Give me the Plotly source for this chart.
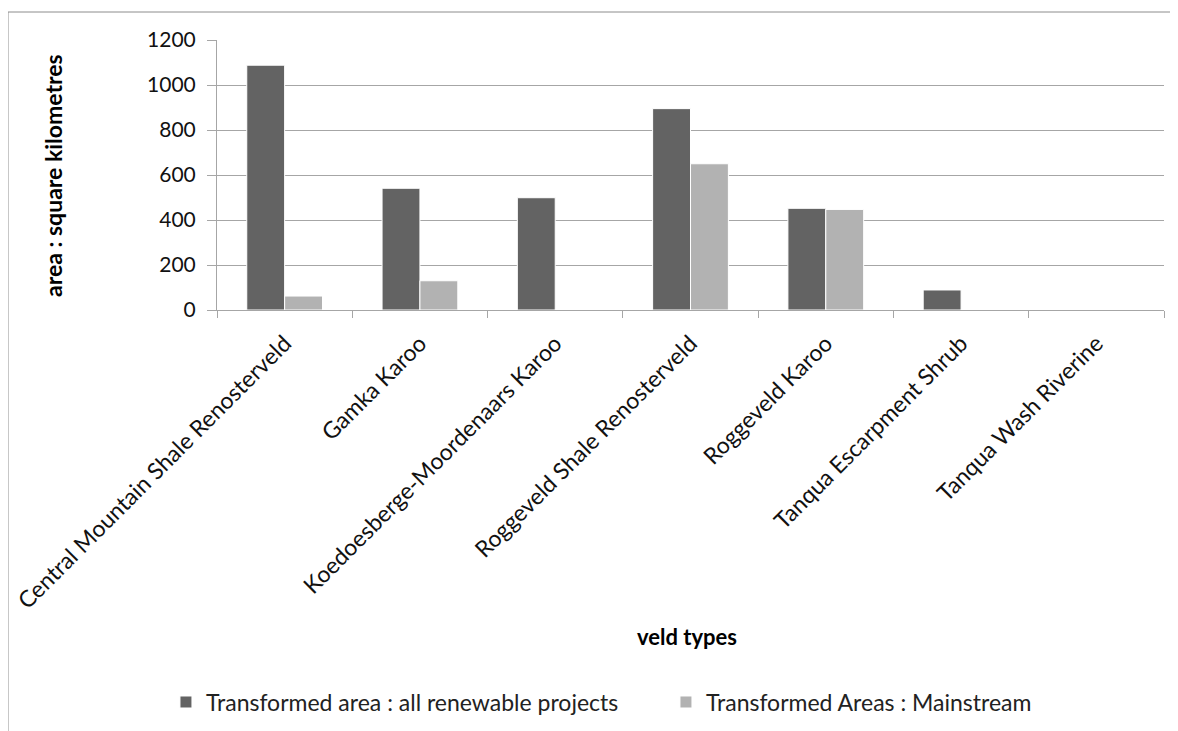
import plotly.graph_objects as go

veld_types = [
    "Central Mountain Shale Renosterveld",
    "Gamka Karoo",
    "Koedoesberge-Moordenaars Karoo",
    "Roggeveld Shale Renosterveld",
    "Roggeveld Karoo",
    "Tanqua Escarpment Shrub",
    "Tanqua Wash Riverine",
]
all_renewable = [1088, 541, 499, 895, 452, 89, 0]
mainstream = [62, 130, 0, 650, 447, 0, 0]

y_ticks = [0, 200, 400, 600, 800, 1000, 1200]

FONT = "Lato, Open Sans, sans-serif"

fig = go.Figure()

fig.add_trace(go.Bar(
    x=veld_types, y=all_renewable,
    name="Transformed area : all renewable projects",
    marker=dict(color="#636363", line=dict(color="#ffffff", width=1)),
))
fig.add_trace(go.Bar(
    x=veld_types, y=mainstream,
    name="Transformed Areas : Mainstream",
    marker=dict(color="#b2b2b2", line=dict(color="#ffffff", width=1)),
))

# page body adds an 8px offset, so the figure is a bit smaller than the window
fig.update_layout(
    width=1170, height=723,
    paper_bgcolor="white", plot_bgcolor="white",
    barmode="group", bargap=0.44, bargroupgap=0,
    margin=dict(l=209, r=14, t=32, b=421, autoexpand=False),
    font=dict(family=FONT, color="#000000"),
    showlegend=True,
    legend=dict(
        orientation="h", x=-0.0539, xanchor="left", y=-1.452, yanchor="middle",
        font=dict(size=23, color="#222222"),
        itemwidth=30, traceorder="normal", entrywidth=455,
    ),
    xaxis=dict(
        type="category", tickangle=-45, automargin=False,
        tickfont=dict(size=23, color="#111111"),
        showline=True, linecolor="#a6a6a6", linewidth=1,
        ticks="outside", tickson="boundaries", ticklen=7, tickcolor="#a6a6a6",
        ticklabelstandoff=10,
        showgrid=False,
    ),
    yaxis=dict(
        range=[0, 1200], tickvals=y_ticks, automargin=False,
        tickfont=dict(size=21, color="#111111"),
        showline=True, linecolor="#a6a6a6", linewidth=1,
        ticks="outside", ticklen=9, tickcolor="#a6a6a6",
        ticklabelstandoff=7,
        showgrid=True, gridcolor="#a6a6a6", gridwidth=1,
        zeroline=False,
    ),
    annotations=[
        dict(text="<b>area : square kilometres</b>", xref="paper", yref="paper",
             x=-0.1901, y=0.5, textangle=-90, showarrow=False,
             font=dict(size=23, color="#000000")),
        dict(text="<b>veld types</b>", xref="paper", yref="paper",
             x=0.496, y=-1.211, xanchor="center", yanchor="middle",
             showarrow=False, font=dict(size=22, color="#000000")),
    ],
    shapes=[
        dict(type="rect", xref="paper", yref="paper",
             x0=-0.2207, y0=-1.8, x1=1.1, y1=1.1037,
             line=dict(color="#8c8c8c", width=1), layer="below"),
    ],
)

fig.write_html("out.html")
